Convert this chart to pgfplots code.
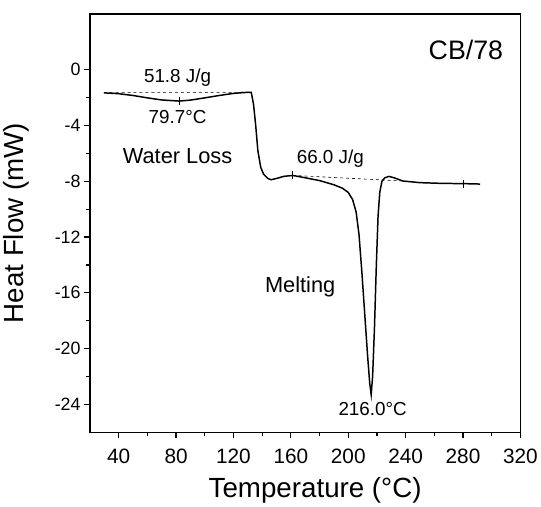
\documentclass[border=0pt]{standalone}
\usepackage{fontspec}
\setmainfont{Liberation Sans}
\usepackage{pgfplots}
\pgfplotsset{compat=1.18}

\begin{document}
\begin{tikzpicture}
\begin{axis}[
    scale only axis,
    width=433bp, height=421bp,
    xmin=20, xmax=320, ymin=-26, ymax=4,
    xtick={40,80,...,320},
    ytick={-24,-20,...,0},
    minor x tick num=1, minor y tick num=1,
    xtick pos=bottom, ytick pos=left,
    tick align=outside,
    major tick length=6bp, minor tick length=4bp,
    every tick/.style={line width=1.2pt},
    axis line style={line width=1.4pt},
    /pgf/number format/assume math mode=true,
    x tick label style={font=\fontsize{21}{23}\selectfont, yshift=-7bp},
    y tick label style={font=\fontsize{18}{20}\selectfont},
    xlabel={Temperature (°C)},
    ylabel={Heat Flow (mW)},
    xlabel style={font=\fontsize{28}{31}\selectfont, xshift=10bp},
    ylabel style={font=\fontsize{28}{30}\selectfont},
    ylabel shift=19bp,
    xlabel shift=7bp,
    clip=false,
]
% DSC trace
\addplot [black, line width=1.5pt, mark=none] coordinates {
    (29.6,-1.66)(40,-1.72)(50,-1.85)(60,-2.02)(70,-2.17)(82.3,-2.25)
    (90,-2.18)(100,-2.02)(110,-1.85)(120,-1.70)(127,-1.64)(132.4,-1.62)
    (134,-2.5)(135.5,-4.0)(137,-5.8)(139,-7.0)(141,-7.5)(144,-7.8)
    (146.3,-7.89)(150,-7.8)(155,-7.65)(161.3,-7.58)(170,-7.75)(180,-7.95)
    (190,-8.25)(196,-8.5)(200,-8.8)(203,-9.3)(205.5,-10.2)(207.5,-11.8)
    (209.5,-14.5)(211.5,-17.5)(213.5,-20.5)(215,-22.5)(216,-23.3)
    (217,-22)(218.3,-18.5)(219.6,-14)(220.8,-10.5)(222,-8.8)(223.5,-8.0)
    (225.5,-7.75)(228.4,-7.65)(232,-7.75)(238,-7.98)(250,-8.1)(265,-8.15)
    (280.3,-8.17)(292,-8.2)
};
% baselines
\addplot [black, dashed, line width=0.6pt] coordinates {(29.6,-1.63)(132.4,-1.62)};
\addplot [black, dashed, line width=0.6pt] coordinates {(161.3,-7.58)(238,-7.98)};
% integration limit marks
\addplot [black, only marks, mark=|, mark size=4bp, mark options={line width=1pt}]
    coordinates {(82.3,-2.25)(161.3,-7.58)(280.3,-8.17)};

\node [font=\fontsize{19}{21}\selectfont] at (axis cs:81,-0.55) {51.8 J/g};
\node [font=\fontsize{19}{21}\selectfont] at (axis cs:81,-3.4) {79.7°C};
\node [font=\fontsize{22}{24}\selectfont] at (axis cs:81,-6.2) {Water Loss};
\node [font=\fontsize{19}{21}\selectfont] at (axis cs:187.5,-6.35) {66.0 J/g};
\node [font=\fontsize{22}{24}\selectfont] at (axis cs:166.5,-15.6) {Melting};
\node [font=\fontsize{19}{21}\selectfont] at (axis cs:217,-24.3) {216.0°C};
\node [font=\fontsize{27}{29}\selectfont] at (axis cs:282,1.45) {CB/78};
\end{axis}
\path ([yshift=14bp]current axis.north east) ++(17bp,0);
\end{tikzpicture}
\end{document}
